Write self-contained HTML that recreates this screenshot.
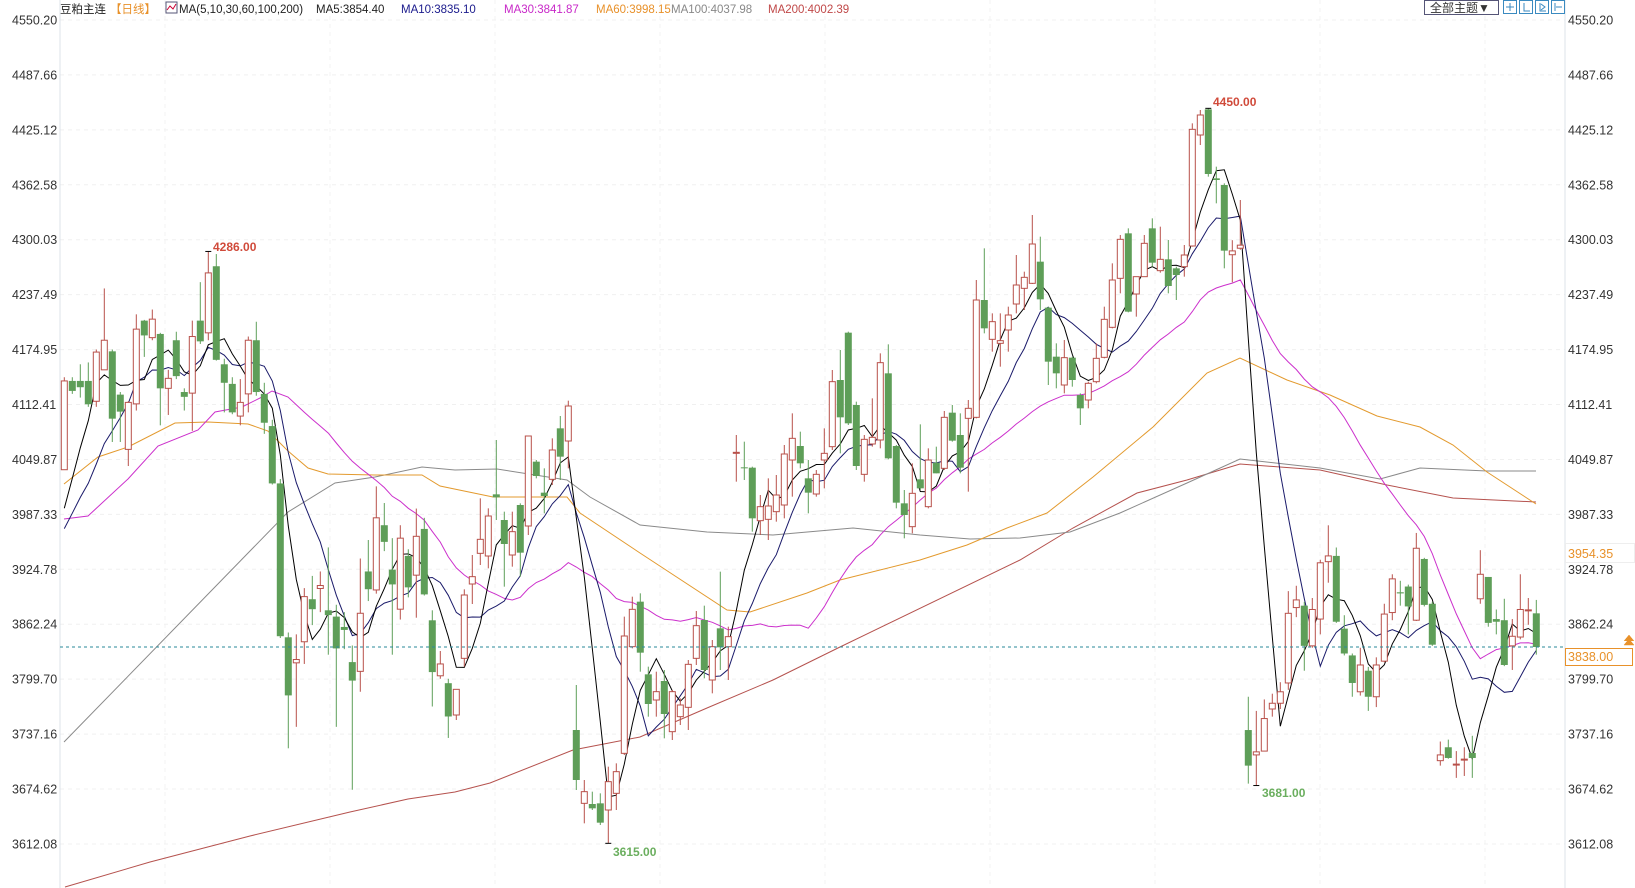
<!DOCTYPE html>
<html><head><meta charset="utf-8">
<style>
html,body{margin:0;padding:0;background:#fff;}
svg{display:block;font-family:"Liberation Sans","Noto Sans CJK SC",sans-serif;}
</style></head>
<body>
<svg id="c" width="1635" height="888" viewBox="0 0 1635 888" xmlns="http://www.w3.org/2000/svg">
<rect width="1635" height="888" fill="#fff"/>
<g id="grid"></g>
<line x1="60" y1="0" x2="60" y2="888" stroke="#dde3ea" stroke-width="1"/>
<line x1="1565" y1="0" x2="1565" y2="888" stroke="#dde3ea" stroke-width="1"/>
<g id="ylab" font-size="12.5" fill="#333"></g>
<g id="mas" fill="none"></g>
<g id="candles"></g>
<line x1="60" y1="647" x2="1565" y2="647" stroke="#2a8a9a" stroke-width="1" stroke-dasharray="3,3"/>
<g id="ma5"></g>
<!-- header -->
<g font-size="11.5">
<text x="60" y="13" fill="#222">豆粕主连</text>
<text x="110" y="13" fill="#e8912a">【日线】</text>
<rect x="166" y="2" width="11" height="11" fill="#fff" stroke="#557" stroke-width="1"/>
<polyline points="167,10 170,6 173,9 176,4" stroke="#c03" fill="none"/>
<text x="179" y="13" fill="#222">MA(5,10,30,60,100,200)</text>
<text x="316" y="13" fill="#222">MA5:3854.40</text>
<text x="401" y="13" fill="#1a1a8c">MA10:3835.10</text>
<text x="504" y="13" fill="#c828c8">MA30:3841.87</text>
<text x="596" y="13" fill="#e8912a">MA60:3998.15</text>
<text x="671" y="13" fill="#888">MA100:4037.98</text>
<text x="768" y="13" fill="#c04848">MA200:4002.39</text>
</g>
<rect x="1424.5" y="0.5" width="74" height="14" fill="#fff" stroke="#557"/>
<text x="1430" y="12" font-size="12" fill="#333">全部主题▼</text>
<g fill="#fff" stroke="#3a8ac0">
<rect x="1503.5" y="0.5" width="13" height="13"/><rect x="1519.5" y="0.5" width="13" height="13"/>
<rect x="1535.5" y="0.5" width="13" height="13"/><rect x="1551.5" y="0.5" width="13" height="13"/>
</g>
<g stroke="#3a8ac0" fill="none">
<path d="M1510 3v8M1506 7h8M1524 3v8h6M1540 3v8h6M1541 4l4 3-4 3M1555 3v8M1556 7h6"/>
</g>
<!-- right labels -->
<rect x="1565.5" y="543.5" width="69" height="19" fill="#fff" stroke="#eee"/>
<text x="1568" y="558" font-size="12.5" fill="#e8912a">3954.35</text>
<rect x="1565.5" y="648.5" width="67" height="17" fill="#fff" stroke="#e8912a"/>
<text x="1568" y="661" font-size="12.5" fill="#e8912a">3838.00</text>
<path d="M1624 645 l5 -6 l5 6 z M1624 641 l5 -6 l5 6" fill="#e8912a" stroke="#e8912a" stroke-width="0.5"/>
<!-- annotations -->
<text x="213" y="251" font-size="12" font-weight="bold" fill="#d04a3a">4286.00</text>
<text x="613" y="856" font-size="12" font-weight="bold" fill="#6aae5e">3615.00</text>
<text x="1213" y="106" font-size="12" font-weight="bold" fill="#d04a3a">4450.00</text>
<text x="1262" y="797" font-size="12" font-weight="bold" fill="#6aae5e">3681.00</text>
</svg>
<script>
const NS="http://www.w3.org/2000/svg";
function el(p,t,a){const e=document.createElementNS(NS,t);for(const k in a)e.setAttribute(k,a[k]);p.appendChild(e);return e;}
const svg=document.getElementById('c');
const labs=["4550.20","4487.66","4425.12","4362.58","4300.03","4237.49","4174.95","4112.41","4049.87","3987.33","3924.78","3862.24","3799.70","3737.16","3674.62","3612.08"];
const g=document.getElementById('grid'),yl=document.getElementById('ylab');
labs.forEach((l,k)=>{const y=20+k*54.93;
 el(g,'line',{x1:60,x2:1565,y1:y,y2:y,stroke:'#f0f0f0','stroke-dasharray':'4,4'});
 el(yl,'text',{x:12,y:y+4.5}).textContent=l;
 el(yl,'text',{x:1568,y:y+4.5}).textContent=l;});
for(let x=165;x<1565;x+=165)el(g,'line',{x1:x,x2:x,y1:0,y2:888,stroke:'#f3f3f3','stroke-dasharray':'4,4'});
const Z4=[[0,1,435,675,425,675],[1,0,435,462,425,470],[2,0,435,452,390,480],[3,0,435,498,385,505],[4,1,357,490,350,505],[5,1,325,405,185,405],[6,0,355,537,350,600],[7,0,472,518,465,600],[8,1,493,620,490,665],[9,1,295,497,255,515],[10,0,272,312,270,370],[11,1,268,318,242,325],[12,0,308,455,305,555],[13,1,428,455,405,527],[14,0,325,422,302,430],[15,0,465,478,455,515],[16,1,315,468,272,570],[17,0,272,328,168,335],[18,1,143,305,85,325],[19,0,125,378,92,380],[20,0,390,440,375,520],[21,0,443,520,425,525],[22,1,493,530,430,555],[23,1,325,470,315,520],[24,0,325,465,275,475],[25,0,470,548,440,578],[26,0,557,712,540,715],[27,0,712,1125,700,1130],[28,0,1128,1285,1115,1428],[29,1,1188,1197,1120,1370],[30,1,1018,1140,995,1200],[31,0,1025,1052,962,1095],[32,1,988,996,950,1060],[33,0,1055,1068,885,1175],[34,0,1072,1158,1040,1370],[35,0,1100,1108,1060,1160],[36,0,1195,1245,1150,1540],[37,1,1063,1220,915,1275],[38,0,950,998,865,1030],[39,1,805,1000,720,1010],[40,0,825,870,765,895],[41,0,945,985,860,1175],[42,1,860,1052,825,1080],[43,0,908,993,890,1020],[44,1,855,960,780,1075],[45,0,835,1012,805,1015],[46,0,1082,1222,1055,1315],[47,1,1200,1232,1165,1240],[48,0,1252,1342,1240,1400]];
const Z5=[[49,1,928,1005,928,1020],[50,1,645,835,628,860],[51,1,590,612,525,672],[52,1,478,520,355,555],[53,1,408,528,385,565],[54,0,343,352,180,420],[55,0,420,492,395,620],[56,1,455,525,395,560],[57,0,375,518,370,590],[58,1,168,438,168,465],[59,0,245,288,240,295],[60,0,338,348,265,400],[61,1,210,298,175,315],[62,0,145,230,108,300],[63,1,78,183,62,265],[64,0,1050,1200,915,1230],[65,1,1235,1270,1200,1330],[66,0,1272,1285,1235,1290],[67,0,1270,1328,1240,1335],[68,1,1205,1290,1160,1390],[69,1,1175,1240,1150,1290],[70,1,768,1120,710,1125],[71,1,688,800,650,805],[72,0,665,818,640,875],[73,0,883,972,860,1010],[74,1,935,960,875,1010],[75,0,903,1002,870,1075],[76,1,935,1055,930,1080],[77,1,975,1010,955,1035],[78,1,853,982,840,1050],[79,1,737,835,693,855],[80,0,720,870,677,895],[81,1,800,900,780,940],[82,0,745,802,575,870],[83,1,770,800,740,900],[84,1,217,220,165,305],[85,0,262,265,185,300],[86,0,263,415,260,455],[87,1,380,422,345,465],[88,1,378,418,295,480],[89,1,345,395,285,425],[90,1,222,375,195,415],[91,1,175,240,100,350],[92,0,198,250,155,265],[93,0,295,338,240,400],[94,1,283,342,270,350]];
const Z6=[[95,1,1120,1140,1045,1225],[96,1,905,1100,870,1110],[97,0,900,1012,810,1120],[98,0,758,1030,755,1035],[99,0,975,1158,965,1170],[100,1,1078,1183,1065,1205],[101,1,1072,1092,955,1100],[102,1,848,1080,820,1105],[103,0,880,1135,793,1138],[104,0,1098,1268,1095,1285],[105,0,1270,1305,1230,1375],[106,1,1240,1340,1150,1360],[107,0,1198,1225,1033,1230],[108,1,1140,1280,1105,1285],[109,0,1148,1180,1100,1180],[110,1,1012,1165,993,1170],[111,0,998,1082,975,1085],[112,0,1065,1163,1000,1180],[113,1,985,1015,960,1235],[114,1,660,1012,600,1015],[115,0,660,745,505,760],[116,1,725,778,700,815],[117,1,782,790,700,860],[118,1,705,750,680,815],[119,1,615,672,525,700],[120,1,592,625,575,690],[121,1,492,610,405,612],[122,0,545,658,470,690],[123,0,683,845,680,915],[124,0,830,880,790,925],[125,1,833,915,780,940],[126,0,833,900,830,920],[127,0,945,985,940,1035],[128,1,910,960,905,985],[129,1,835,905,790,910],[130,1,718,832,680,835],[131,1,600,742,550,745],[132,1,478,595,465,640],[133,0,460,695,445,697],[134,1,590,642,590,710],[135,1,490,590,465,590],[136,0,445,548,415,560],[137,1,538,572,440,578],[138,0,538,618,480,640],[139,0,565,585,560,660],[140,1,525,560,495,590],[141,1,148,498,130,500],[142,1,105,165,90,195],[143,0,88,282,85,290],[144,0,295,300,260,370],[145,0,315,512,310,565]];
const Z7=[[146,1,133,143,105,215],[147,1,118,126,0,130],[148,0,1385,1478,1298,1525],[149,1,1442,1450,1335,1530],[150,1,1355,1440,1305,1440],[151,1,1315,1330,1290,1350],[152,1,1285,1315,1260,1330],[153,1,1080,1262,1022,1280],[154,1,1045,1065,1008,1090],[155,0,1060,1165,1050,1230],[156,1,1070,1165,1040,1170],[157,1,948,1095,940,1135],[158,1,930,945,850,1000],[159,0,930,1102,908,1105],[160,0,1120,1185,1085,1190],[161,0,1190,1262,1185,1298],[162,1,1215,1285,1170,1295],[163,0,1230,1298,1220,1335],[164,1,1215,1298,1195,1325],[165,1,1082,1205,1055,1208],[166,1,990,1078,978,1098],[167,0,1025,1028,995,1060],[168,0,1010,1062,1005,1135],[169,1,910,1098,870,1100],[170,0,938,1058,935,1062],[171,0,1055,1162,1050,1165],[172,1,1450,1465,1415,1478],[173,0,1430,1458,1410,1460],[174,1,1474,1476,1440,1510],[175,1,1461,1463,1430,1505],[176,0,1445,1458,1400,1510],[177,1,978,1042,915,1055],[178,0,985,1105,985,1115],[179,0,1095,1102,1070,1135],[180,0,1098,1215,1042,1218],[181,1,1140,1165,1095,1228],[182,1,1070,1142,978,1148],[183,1,1071,1073,1040,1110],[184,0,1080,1168,1045,1188]];
const C=[];
function add(arr,y0,s){arr.forEach(d=>{const f=v=>y0+v/s;C[d[0]]={up:d[1],bt:f(d[2]),bb:f(d[3]),wt:f(d[4]),wb:f(d[5])};});}
add(Z4,220,2.703);add(Z5,380,3);add(Z6,80,3);add(Z7,200,2.613);
const X=i=>64.3+8*i;
const cg=document.getElementById('candles');
const RED='#b8504a',GRN='#5e9e58';
C.forEach((c,i)=>{const x=X(i);const col=c.up?RED:GRN;
 el(cg,'line',{x1:x,x2:x,y1:c.wt,y2:c.wb,stroke:col,'stroke-width':1});
 const h=Math.max(c.bb-c.bt,1);
 if(c.up)el(cg,'rect',{x:x-3,y:c.bt,width:6,height:h,fill:'#fff',stroke:col,'stroke-width':1});
 else el(cg,'rect',{x:x-3.5,y:c.bt,width:7,height:h,fill:col});
});
[[18,'t'],[68,'b'],[143,'t'],[149,'b']].forEach(([i,w])=>{const c=C[i];const y=w=='t'?c.wt:c.wb;el(cg,'line',{x1:X(i)-3,x2:X(i)+3,y1:y,y2:y,stroke:'#000'});});
const cl=C.map(c=>c.up?c.bt:c.bb);
function ma(n,seed){const out=[];for(let i=0;i<cl.length;i++){let s=0,k=0;for(let j=i-n+1;j<=i;j++){s+=j>=0?cl[j]:seed;k++;}out.push(s/k);}return out;}
const m5=ma(5,540),m10=ma(10,545);
function pl(pts,col,w){el(document.getElementById('mas'),'polyline',{points:pts.map(p=>p[0].toFixed(1)+','+p[1].toFixed(1)).join(' '),stroke:col,'stroke-width':w||1,fill:'none'});}
const m30=[];const hand=[[64,519],[88,516],[128,479],[158,446],[198,430],[215,412],[242,407],[262,397],[272,391],[288,397]];
hand.forEach(p=>m30.push(p));
for(let i=30;i<cl.length;i++){let s=0;for(let j=i-29;j<=i;j++)s+=cl[j];m30.push([X(i),s/30]);}
pl([[65,887],[150,862],[250,836],[350,812],[408,799],[455,792],[490,783],[573,750],[640,737],[707,708],[773,680],[840,647],[1020,560],[1073,528],[1137,493],[1187,480],[1240,464],[1320,470],[1387,485],[1453,498],[1536,502]],'#b5524e');
pl([[64,742],[288,512],[335,483],[375,477],[422,467],[455,470],[497,469],[567,480],[590,497],[640,525],[707,532],[773,535],[853,528],[920,535],[970,539],[1020,538],[1070,532],[1120,513],[1187,483],[1240,459],[1320,468],[1380,479],[1420,468],[1487,471],[1536,471]],'#8a8a8a');
pl([[64,484],[98,457],[128,447],[175,423],[208,422],[248,424],[268,431],[288,451],[308,468],[328,474],[375,475],[422,475],[440,486],[493,497],[567,497],[580,513],[640,553],[727,610],[750,612],[807,593],[840,580],[920,560],[967,545],[1007,528],[1047,513],[1093,477],[1153,427],[1207,373],[1240,358],[1287,380],[1330,395],[1377,416],[1420,427],[1453,445],[1487,472],[1536,504]],'#e39a2e');
pl(m30,'#cc30cc');
pl(m10.map((v,i)=>[X(i),v]),'#1a1a6a');
pl(m5.map((v,i)=>[X(i),v]),'#000');
</script>
</body></html>
